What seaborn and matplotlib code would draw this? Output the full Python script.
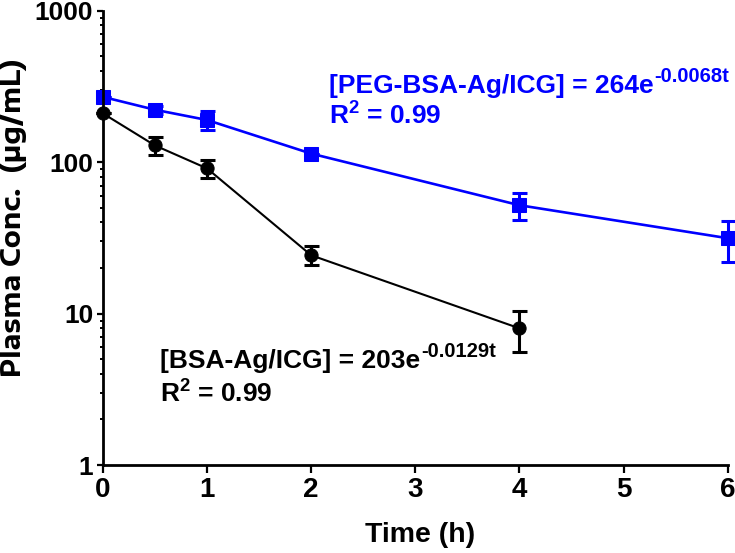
import numpy as np
import pandas as pd
import matplotlib
matplotlib.use('Agg')
import matplotlib.pyplot as plt
import seaborn as sns
from matplotlib.ticker import LogLocator, NullFormatter, FixedLocator

# Data
time_h = [0, 0.5, 1, 2, 4, 6]
peg_conc = [270, 222, 190, 114, 52, 31.5]
peg_err = [0, 14, 28, 0, 10.5, 9.5]

bsa_time = [0, 0.5, 1, 2, 4]
bsa_conc = [210, 129, 91, 24.3, 8.0]
bsa_err = [0, 17, 12, 3.5, 2.4]

x_ticks = [0, 1, 2, 3, 4, 5, 6]
y_ticks = [1, 10, 100, 1000]
y_tick_labels = ['1', '10', '100', '1000']

sns.set_style("ticks")
font = ['Liberation Sans', 'DejaVu Sans']
plt.rcParams['font.family'] = font
plt.rcParams['font.weight'] = 'bold'
plt.rcParams['mathtext.default'] = 'regular'
for key in ['text.color', 'axes.labelcolor', 'xtick.color', 'ytick.color',
            'axes.edgecolor']:
    plt.rcParams[key] = 'black'

peg_df = pd.DataFrame({'Time': time_h, 'Conc': peg_conc})
bsa_df = pd.DataFrame({'Time': bsa_time, 'Conc': bsa_conc})

DPI = 100
fig = plt.figure(figsize=(7.35, 5.53), dpi=DPI)
ax = fig.add_axes([0.140, 0.159, 0.850, 0.8215])

blue = '#0000ff'
sns.lineplot(data=peg_df, x='Time', y='Conc', ax=ax, color=blue, lw=1.9,
             marker='s', markersize=10, markeredgecolor=blue, clip_on=False)
sns.lineplot(data=bsa_df, x='Time', y='Conc', ax=ax, color='black', lw=1.5,
             marker='o', markersize=9.5, markeredgecolor='black', clip_on=False)
ax.errorbar(time_h, peg_conc, yerr=peg_err, fmt='none', ecolor=blue,
            elinewidth=2.2, capsize=5.4, capthick=2.2, clip_on=False)
ax.errorbar(bsa_time, bsa_conc, yerr=bsa_err, fmt='none', ecolor='black',
            elinewidth=2.2, capsize=5.4, capthick=2.2, clip_on=False)

ax.set_yscale('log')
ax.set_ylim(1, 1000)
ax.set_xlim(0, 6)
ax.xaxis.set_major_locator(FixedLocator(x_ticks))
ax.yaxis.set_major_locator(FixedLocator(y_ticks))
ax.yaxis.set_minor_locator(LogLocator(base=10, subs=np.arange(2, 10)))
ax.yaxis.set_minor_formatter(NullFormatter())
ax.set_xticklabels([str(t) for t in x_ticks], fontsize=20, fontweight='bold')
ax.set_yticklabels(y_tick_labels, fontsize=19, fontweight='bold')

sns.despine(ax=ax)
for s in ['left', 'bottom']:
    ax.spines[s].set_linewidth(2.0)
ax.tick_params(axis='x', which='major', length=5.5, width=1.6, pad=3)
ax.tick_params(axis='y', which='major', length=4, width=1.6, pad=3)
ax.tick_params(axis='y', which='minor', length=2.5, width=1.4)

ax.set_xlabel('Time (h)', fontsize=20.5, fontweight='bold')
ax.xaxis.set_label_coords(0.507, -0.154)
ax.xaxis.label.set_va('center')
ax.set_ylabel('Plasma Conc.  (\u03bcg/mL)', fontsize=19, fontweight='bold',
              family=['Encode Sans Expanded', 'Liberation Sans', 'DejaVu Sans'])
ax.yaxis.set_label_coords(-0.144, 0.544)
ax.yaxis.label.set(va='center', ha='center', rotation_mode='default')


def eq_text(x, y, base, sup, color):
    t = ax.text(x, y, base, color=color, fontsize=19, fontweight='bold',
                va='baseline', ha='left')
    fig.canvas.draw()
    w = t.get_window_extent().width * 72 / DPI
    ax.annotate(sup, xy=(x, y), xycoords='data', xytext=(w + 0.5, 8),
                textcoords='offset points', color=color, fontsize=14.5,
                fontweight='bold', va='baseline', ha='left')


eq_text(2.17, 286, '[PEG-BSA-Ag/ICG] = 264e', '-0.0068t', blue)
ax.text(2.17, 176, 'R$^{2}$ = 0.99', color=blue, fontsize=19,
        fontweight='bold', va='baseline', ha='left')
eq_text(0.548, 4.37, '[BSA-Ag/ICG] = 203e', '-0.0129t', 'black')
ax.text(0.548, 2.60, 'R$^{2}$ = 0.99', color='black', fontsize=19,
        fontweight='bold', va='baseline', ha='left')

fig.savefig('out.png', dpi=DPI)
